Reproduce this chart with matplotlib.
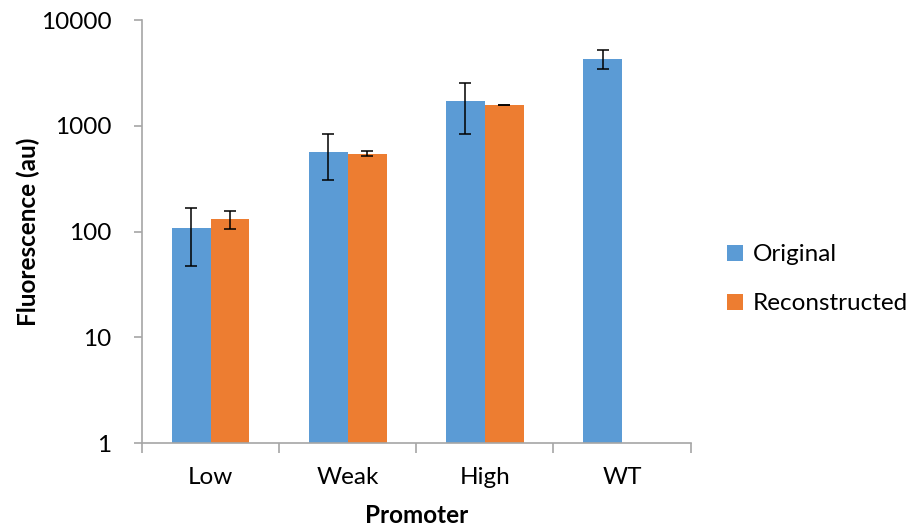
import numpy as np
import matplotlib
matplotlib.use("Agg")
import matplotlib.pyplot as plt

plt.rcParams['font.family'] = ['Lato', 'DejaVu Sans']

# Fluorescence by promoter strength
promoters = ["Low", "Weak", "High", "WT"]
original = [107, 570, 1700, 4320]
original_err = [60, 260, 860, 880]
reconstructed = [131, 545, 1570, np.nan]
reconstructed_err = [26, 28, 15, np.nan]

blue = "#5b9bd5"
orange = "#ed7d31"
axis_grey = "#a6a6a6"
fs = 17.5

fig = plt.figure(figsize=(9.11, 5.31), dpi=100)
ax = fig.add_axes([0.1559, 0.1657, 0.6021, 0.7966])

x = np.arange(len(promoters))
w = 0.283
err_kw = dict(ecolor="black", elinewidth=1.1, capsize=4.5, capthick=1.1)
ax.bar(x - w / 2, original, w, yerr=original_err, color=blue, label="Original",
       error_kw=err_kw)
ax.bar(x + w / 2, reconstructed, w, yerr=reconstructed_err, color=orange,
       label="Reconstructed", error_kw=err_kw)

ax.set_yscale("log")
ax.set_ylim(1, 10000)
ax.set_xlim(-0.5, len(promoters) - 0.5)
ax.set_yticks([1, 10, 100, 1000, 10000])
ax.set_yticklabels(["1", "10", "100", "1000", "10000"])
ax.yaxis.set_minor_locator(matplotlib.ticker.NullLocator())

# category labels centred, tick marks on the group boundaries
ax.set_xticks(x)
ax.set_xticklabels(promoters)
ax.set_xticks(np.arange(len(promoters) + 1) - 0.5, minor=True)
ax.tick_params(axis="x", which="major", length=0, pad=17, labelsize=fs)
ax.tick_params(axis="x", which="minor", length=7, width=1.2, color=axis_grey,
               direction="out")
ax.tick_params(axis="y", which="major", length=6, width=1.2, color=axis_grey,
               pad=16, labelsize=fs)

for side in ("top", "right"):
    ax.spines[side].set_visible(False)
for side in ("left", "bottom"):
    ax.spines[side].set_color(axis_grey)
    ax.spines[side].set_linewidth(1.2)

ax.set_ylabel("Fluorescence (au)", fontsize=fs, fontweight="bold")
ax.yaxis.set_label_coords(-0.186, 0.5)
ax.set_xlabel("Promoter", fontsize=fs, fontweight="bold", labelpad=12)

fig.legend(loc="center left", bbox_to_anchor=(0.798, 0.474), frameon=False,
           fontsize=fs, handlelength=0.65, handleheight=0.65,
           handletextpad=0.4, labelspacing=1.15, borderpad=0, borderaxespad=0)

fig.savefig("out.png", dpi=100)
